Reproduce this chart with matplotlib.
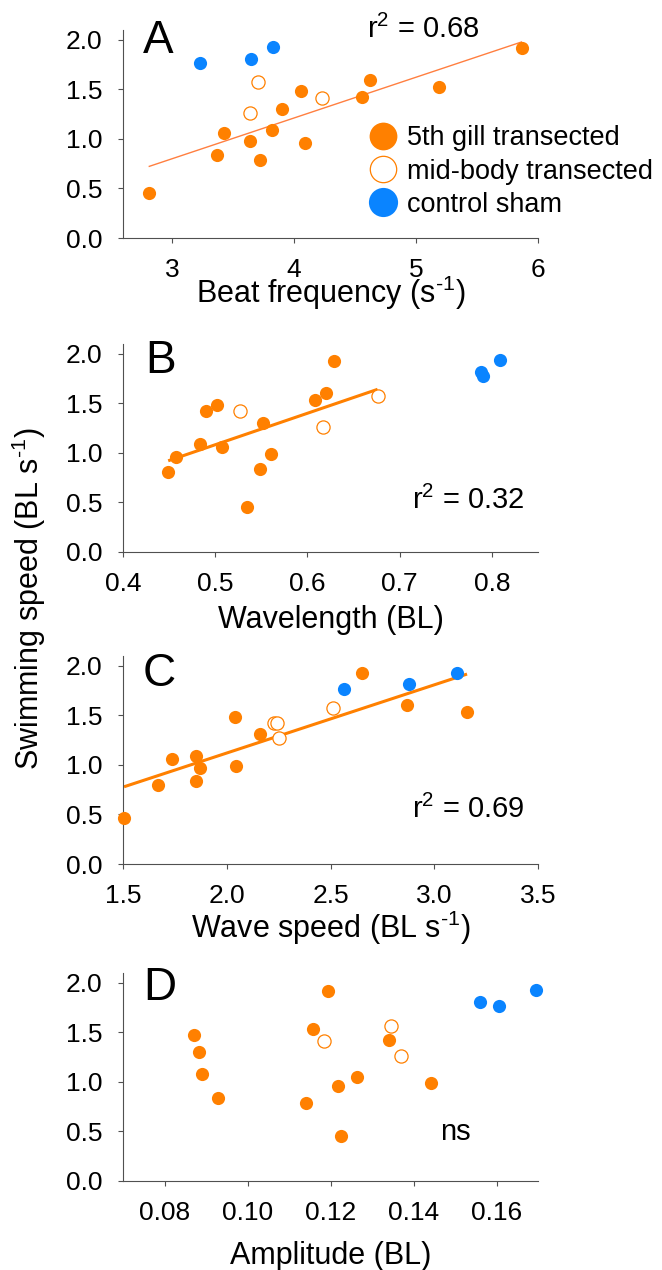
import matplotlib
matplotlib.use('Agg')
import matplotlib.pyplot as plt
import numpy as np
from matplotlib.lines import Line2D

plt.rcParams['font.family'] = ['Liberation Sans', 'DejaVu Sans']
plt.rcParams['mathtext.fontset'] = 'custom'
plt.rcParams['mathtext.rm'] = 'Liberation Sans'
plt.rcParams['mathtext.default'] = 'regular'

ORANGE = '#FF8000'
BLUE = '#0A84FF'
SPINE = '#505050'

# A: beat frequency
a_gill_x = [2.81, 3.37, 3.43, 3.64, 3.72, 3.82, 3.90, 4.06, 4.09, 4.56, 4.62, 5.19, 5.87]
a_gill_y = [0.45, 0.84, 1.06, 0.98, 0.79, 1.09, 1.30, 1.48, 0.96, 1.42, 1.60, 1.52, 1.92]
a_mid_x = [3.71, 3.64, 4.23]
a_mid_y = [1.57, 1.26, 1.41]
a_ctrl_x = [3.23, 3.65, 3.83]
a_ctrl_y = [1.77, 1.81, 1.93]

# B: wavelength
b_gill_x = [0.449, 0.458, 0.484, 0.490, 0.502, 0.507, 0.534, 0.549, 0.552, 0.560, 0.608, 0.620, 0.629]
b_gill_y = [0.80, 0.96, 1.09, 1.42, 1.48, 1.06, 0.45, 0.84, 1.30, 0.99, 1.53, 1.60, 1.93]
b_mid_x = [0.527, 0.617, 0.676]
b_mid_y = [1.42, 1.26, 1.57]
b_ctrl_x = [0.788, 0.790, 0.809]
b_ctrl_y = [1.81, 1.77, 1.94]

# C: wave speed
c_gill_x = [1.505, 1.669, 1.738, 1.852, 1.852, 1.873, 2.041, 2.044, 2.160, 2.652, 2.871, 3.158]
c_gill_y = [0.46, 0.80, 1.06, 1.09, 0.84, 0.97, 1.48, 0.99, 1.31, 1.93, 1.61, 1.53]
c_mid_x = [2.230, 2.242, 2.251, 2.511]
c_mid_y = [1.42, 1.42, 1.27, 1.57]
c_ctrl_x = [2.564, 2.880, 3.108]
c_ctrl_y = [1.77, 1.82, 1.93]

# D: amplitude
d_gill_x = [0.0872, 0.0884, 0.0890, 0.0929, 0.1141, 0.1159, 0.1193, 0.1218, 0.1225, 0.1263, 0.1342, 0.1443]
d_gill_y = [1.47, 1.30, 1.08, 0.84, 0.79, 1.53, 1.92, 0.96, 0.45, 1.05, 1.42, 0.99]
d_mid_x = [0.1185, 0.1346, 0.1369]
d_mid_y = [1.41, 1.56, 1.26]
d_ctrl_x = [0.1561, 0.1607, 0.1694]
d_ctrl_y = [1.81, 1.77, 1.93]

yticks = [0.0, 0.5, 1.0, 1.5, 2.0]

W, H = 662, 1270
fig = plt.figure(figsize=(W / 100, H / 100), dpi=100)


def make_axes(bottom_px):
    ax = fig.add_axes([123 / W, (H - bottom_px) / H, 415 / W, 208 / H])
    for s in ('top', 'right'):
        ax.spines[s].set_visible(False)
    for s in ('left', 'bottom'):
        ax.spines[s].set_color(SPINE)
        ax.spines[s].set_linewidth(0.8)
    ax.tick_params(direction='out', length=3.6, width=0.8, color=SPINE,
                   labelsize=19, pad=11)
    ax.set_ylim(0, 2.1)
    ax.set_yticks(yticks)
    ax.set_yticklabels(['%.1f' % v for v in yticks])
    return ax


def draw_points(ax, gx, gy, mx, my, cx, cy):
    kw = dict(s=90, clip_on=False, zorder=3)
    ax.scatter(gx, gy, c=ORANGE, linewidths=0, **kw)
    ax.scatter(mx, my, facecolors='white', edgecolors=ORANGE, linewidths=0.9, **kw)
    ax.scatter(cx, cy, c=BLUE, linewidths=0, **kw)


def fit_line(ax, gx, gy, mx, my, color, lw):
    x = np.array(gx + mx)
    y = np.array(gy + my)
    k, b = np.polyfit(x, y, 1)
    xs = np.array([x.min(), x.max()])
    ax.plot(xs, k * xs + b, color=color, lw=lw, zorder=2, solid_capstyle='butt')


def letter(ax, s, x, y):
    ax.text(x, y, s, transform=ax.transAxes, fontsize=33, va='baseline', ha='left')


def note(ax, s, x, y):
    ax.text(x, y, s, transform=ax.transAxes, fontsize=21, va='baseline', ha='left')


def xlabel(ax, s, y):
    ax.set_xlabel(s, fontsize=22, va='baseline')
    ax.xaxis.set_label_coords(0.5, y)


# panel A
ax = make_axes(238)
ax.set_xlim(2.6, 6.0)
ax.set_xticks([3, 4, 5, 6])
ax.set_xticklabels(['3', '4', '5', '6'])
fit_line(ax, a_gill_x, a_gill_y, a_mid_x, a_mid_y, '#FF7F40', 1.0)
draw_points(ax, a_gill_x, a_gill_y, a_mid_x, a_mid_y, a_ctrl_x, a_ctrl_y)
letter(ax, 'A', 0.048, 0.891)
note(ax, r'r$^{2}$ = 0.68', 0.588, 0.960)
xlabel(ax, r'Beat frequency (s$^{\text{-1}}$)', -0.3125)
handles = [
    Line2D([], [], ls='none', marker='o', ms=20, mfc=ORANGE, mec=ORANGE, mew=0),
    Line2D([], [], ls='none', marker='o', ms=19, mfc='white', mec=ORANGE, mew=0.9),
    Line2D([], [], ls='none', marker='o', ms=21, mfc=BLUE, mec=BLUE, mew=0),
]
ax.legend(handles, ['5th gill transected', 'mid-body transected', 'control sham'],
          loc='upper left', bbox_to_anchor=(0.594, 0.542), frameon=False,
          fontsize=19.5, borderpad=0, borderaxespad=0, handlelength=1.0,
          handletextpad=0.37, labelspacing=0.27)

# panel B
ax = make_axes(551.7)
ax.set_xlim(0.4, 0.85)
ax.set_xticks([0.4, 0.5, 0.6, 0.7, 0.8])
ax.set_xticklabels(['0.4', '0.5', '0.6', '0.7', '0.8'])
fit_line(ax, b_gill_x, b_gill_y, b_mid_x, b_mid_y, ORANGE, 2.2)
draw_points(ax, b_gill_x, b_gill_y, b_mid_x, b_mid_y, b_ctrl_x, b_ctrl_y)
letter(ax, 'B', 0.053, 0.859)
note(ax, r'r$^{2}$ = 0.32', 0.697, 0.205)
xlabel(ax, 'Wavelength (BL)', -0.369)

# panel C
ax = make_axes(864)
ax.set_xlim(1.5, 3.5)
ax.set_xticks([1.5, 2.0, 2.5, 3.0, 3.5])
ax.set_xticklabels(['1.5', '2.0', '2.5', '3.0', '3.5'])
fit_line(ax, c_gill_x, c_gill_y, c_mid_x, c_mid_y, ORANGE, 2.2)
draw_points(ax, c_gill_x, c_gill_y, c_mid_x, c_mid_y, c_ctrl_x, c_ctrl_y)
letter(ax, 'C', 0.047, 0.856)
note(ax, r'r$^{2}$ = 0.69', 0.697, 0.221)
xlabel(ax, r'Wave speed (BL s$^{\text{-1}}$)', -0.356)

# panel D
ax = make_axes(1181)
ax.set_xlim(0.07, 0.17)
ax.set_xticks([0.08, 0.10, 0.12, 0.14, 0.16])
ax.set_xticklabels(['0.08', '0.10', '0.12', '0.14', '0.16'])
draw_points(ax, d_gill_x, d_gill_y, d_mid_x, d_mid_y, d_ctrl_x, d_ctrl_y)
letter(ax, 'D', 0.048, 0.87)
note(ax, 'ns', 0.764, 0.197)
xlabel(ax, 'Amplitude (BL)', -0.397)

fig.text(29 / W, 1 - 599 / H, r'Swimming speed (BL s$^{\text{-1}}$)', rotation=90,
         fontsize=22, ha='center', va='center')

fig.savefig('out.png', dpi=100)
